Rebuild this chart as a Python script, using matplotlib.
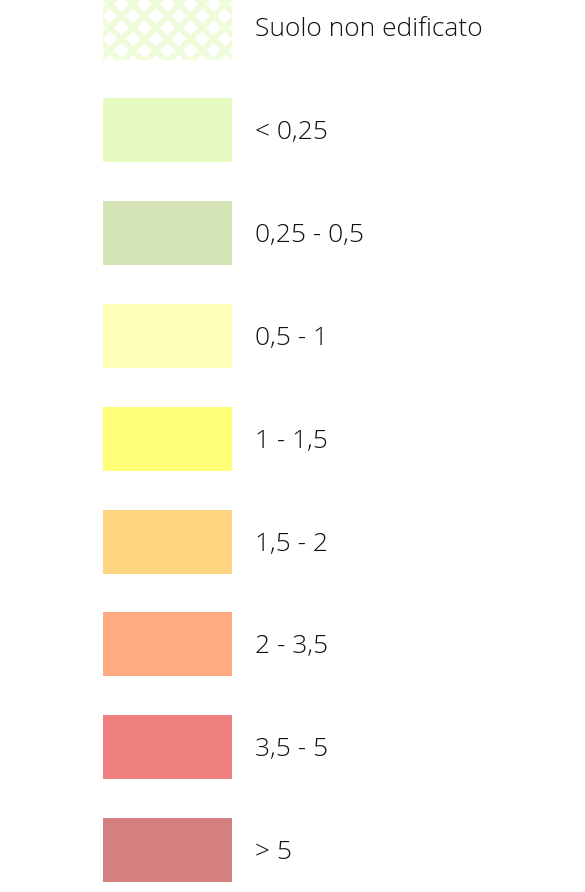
import numpy as np
import matplotlib
matplotlib.use("Agg")
from matplotlib import pyplot as plt
from matplotlib.patches import Rectangle

labels = ["Suolo non edificato", "< 0,25", "0,25 - 0,5", "0,5 - 1", "1 - 1,5",
          "1,5 - 2", "2 - 3,5", "3,5 - 5", "> 5"]
colors = [None, "#e6f9bf", "#d5e4b5", "#ffffbb", "#ffff77",
          "#ffd480", "#ffaa80", "#f08080", "#d48080"]
hatch_color = "#effcd9"

fig = plt.figure(figsize=(5.85, 8.92), dpi=100)
ax = fig.add_axes([0, 0, 1, 1])
ax.set_xlim(0, 585)
ax.set_ylim(892, 0)
ax.axis("off")

x0, w, h = 103, 129, 64
step = 102.8
top0 = -4.5

for i, (lab, col) in enumerate(zip(labels, colors)):
    top = top0 + i * step
    if col is None:
        # lattice pattern for the unbuilt soil
        rect = Rectangle((x0, top), w, h, facecolor="white", edgecolor="none")
        ax.add_patch(rect)
        period = 23
        for c in np.arange(-200, 300, period):
            for sgn in (1, -1):
                xs = np.array([x0 - 100, x0 + w + 100])
                ys = top + h / 2 + sgn * (xs - x0 - c)
                ln, = ax.plot(xs, ys, color=hatch_color, lw=4, solid_capstyle="butt")
                ln.set_clip_path(rect)
    else:
        ax.add_patch(Rectangle((x0, top), w, h, facecolor=col, edgecolor="none"))
    ax.text(255, top + h / 2 + 2.5, lab, va="center", ha="left", fontsize=19,
            family="Open Sans", fontweight="light", color="#111111")

fig.savefig("out.png", dpi=100)
